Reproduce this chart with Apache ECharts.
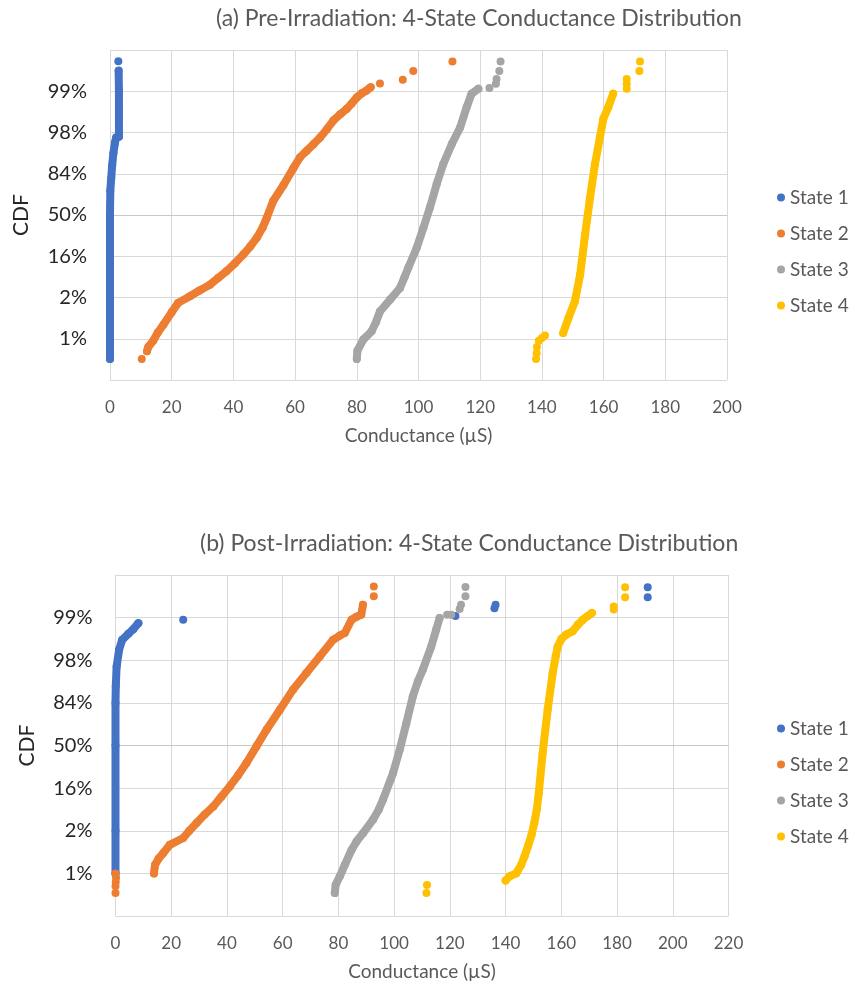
<!DOCTYPE html>
<html>
<head>
<meta charset="utf-8">
<title>4-State Conductance Distribution</title>
<script src="https://cdn.jsdelivr.net/npm/echarts@6/dist/echarts.min.js"></script>
<style>
  html, body { margin: 0; padding: 0; background: #ffffff; }
  #chart { width: 855px; height: 989px; }
</style>
</head>
<body>
<div id="chart"></div>
<script>
// Probability-scale CDF: y is the normal quantile (sigma), labelled with percentages
const yTickPos = [-3, -2, -1, 0, 1, 2, 3];
const yTickLabels = ['1%', '2%', '16%', '50%', '84%', '98%', '99%'];
const stateNames = ['State 1', 'State 2', 'State 3', 'State 4'];
const stateColors = ['#4472C4', '#ED7D31', '#A5A5A5', '#FFC000'];

// ---- (a) Pre-irradiation: [conductance µS, sigma] ----
const pre1Dense = [[0.0,-3.49],[0.0,-3.3],[0.0,-2.0],[0.0,0.0],[0.1,0.6],[0.4,0.9],[0.7,1.2],[1.1,1.5],[1.6,1.75],[2.0,1.88],[2.9,1.9],[2.9,2.5],[2.9,3.0],[2.8,3.5]];
const pre1Sparse = [[2.7,3.73]];
const pre2Dense = [[12.0,-3.3],[12.4,-3.2],[14.0,-3.05],[15.5,-2.85],[17.3,-2.66],[20.0,-2.36],[22.1,-2.13],[25.9,-1.97],[29.0,-1.83],[32.4,-1.69],[35.0,-1.53],[37.8,-1.36],[40.5,-1.17],[43.2,-0.96],[45.5,-0.76],[47.6,-0.55],[49.5,-0.3],[50.8,-0.07],[52.9,0.34],[56.2,0.72],[59.4,1.13],[61.6,1.4],[63.8,1.56],[66.0,1.72],[68.1,1.88],[70.3,2.08],[72.4,2.29],[74.6,2.44],[76.7,2.57],[78.3,2.7],[80.0,2.85],[81.6,2.95],[83.2,3.02],[84.5,3.1]];
const pre2Sparse = [[10.3,-3.49],[87.5,3.19],[94.9,3.28],[98.3,3.49],[111.0,3.72]];
const pre3Dense = [[80.0,-3.49],[80.2,-3.29],[82.1,-3.02],[84.8,-2.82],[86.2,-2.6],[87.5,-2.34],[90.8,-2.05],[94.0,-1.77],[95.5,-1.5],[96.7,-1.28],[99.4,-0.8],[101.6,-0.31],[103.7,0.18],[105.9,0.75],[108.0,1.23],[110.8,1.72],[113.5,2.12],[115.6,2.61],[117.2,2.94],[119.4,3.06]];
const pre3Sparse = [[123.0,3.08],[125.1,3.18],[125.3,3.3],[126.2,3.49],[126.6,3.72]];
const pre4Dense = [[146.9,-2.86],[148.6,-2.5],[150.7,-2.09],[152.4,-1.44],[154.0,-0.47],[155.6,0.42],[157.2,1.23],[158.8,1.88],[159.9,2.33],[161.5,2.61],[163.1,2.94]];
const pre4Sparse = [[138.1,-3.49],[138.3,-3.35],[138.4,-3.2],[139.0,-3.05],[140.0,-2.98],[141.0,-2.92],[167.5,3.06],[167.5,3.18],[167.5,3.3],[171.6,3.49],[171.8,3.72]];

// ---- (b) Post-irradiation ----
const post1Dense = [[0.0,-3.0],[0.0,-2.0],[0.0,0.0],[0.0,1.0],[0.1,1.39],[0.4,1.85],[1.3,2.25],[2.4,2.48],[4.6,2.62],[6.4,2.73],[8.2,2.87]];
const post1Sparse = [[24.3,2.95],[122.0,3.04],[136.0,3.22],[136.4,3.3],[191.0,3.48],[191.0,3.71]];
const post2Dense = [[13.8,-3.0],[14.2,-2.8],[15.5,-2.65],[17.1,-2.53],[19.5,-2.33],[24.3,-2.17],[26.5,-2.0],[29.1,-1.82],[32.0,-1.62],[35.1,-1.43],[38.0,-1.2],[41.0,-0.96],[44.0,-0.7],[47.0,-0.41],[50.6,-0.02],[54.2,0.37],[59.0,0.84],[63.7,1.31],[68.5,1.7],[73.3,2.09],[78.1,2.48],[80.5,2.58],[82.3,2.64],[84.7,2.95],[86.5,3.02],[88.2,3.07],[88.8,3.3]];
const post2Sparse = [[0.0,-3.0],[0.2,-3.1],[0.1,-3.2],[0.0,-3.3],[0.0,-3.46],[92.7,3.5],[92.7,3.73]];
const post3Dense = [[78.7,-3.46],[79.0,-3.27],[80.5,-3.07],[82.3,-2.8],[84.7,-2.45],[86.5,-2.25],[88.8,-2.06],[92.4,-1.74],[94.5,-1.5],[96.0,-1.27],[99.6,-0.65],[102.0,-0.1],[104.4,0.53],[106.7,1.15],[108.5,1.5],[110.3,1.78],[113.3,2.32],[115.1,2.72],[116.3,2.99]];
const post3Sparse = [[119.0,3.07],[120.5,3.07],[123.5,3.2],[124.0,3.3],[125.6,3.5],[125.6,3.72]];
const post4Dense = [[140.0,-3.17],[141.4,-3.07],[143.8,-3.0],[145.6,-2.8],[146.8,-2.6],[148.0,-2.37],[149.3,-2.1],[150.3,-1.82],[151.2,-1.5],[151.9,-1.12],[153.3,-0.18],[155.1,0.84],[156.9,1.7],[158.0,2.1],[158.7,2.32],[160.0,2.5],[161.7,2.6],[164.1,2.68],[165.9,2.83],[167.7,2.95],[169.5,3.04],[171.0,3.11]];
const post4Sparse = [[111.8,-3.27],[111.6,-3.46],[178.8,3.19],[178.8,3.26],[182.9,3.48],[182.9,3.71]];

const preDense = [pre1Dense, pre2Dense, pre3Dense, pre4Dense];
const preSparse = [pre1Sparse, pre2Sparse, pre3Sparse, pre4Sparse];
const postDense = [post1Dense, post2Dense, post3Dense, post4Dense];
const postSparse = [post1Sparse, post2Sparse, post3Sparse, post4Sparse];

const FONT = 'Lato, "Open Sans", sans-serif';
const MARK = 8;
const GRID_LINE = '#d9d9d9';

function xAxisFor(gridIndex, max) {
  return {
    type: 'value', gridIndex: gridIndex, min: 0, max: max, interval: 20,
    name: 'Conductance (µS)', nameLocation: 'middle', nameGap: 46,
    nameTextStyle: { color: '#595959', fontSize: 19, fontFamily: FONT },
    axisLine: { show: true, lineStyle: { color: '#c8c8c8', width: 1 } },
    axisTick: { show: false },
    axisLabel: { color: '#595959', fontSize: 17, fontFamily: FONT, margin: 19 },
    splitLine: { show: true, lineStyle: { color: GRID_LINE, width: 1 } }
  };
}

function yAxisFor(gridIndex) {
  return {
    type: 'value', gridIndex: gridIndex, min: -4, max: 4, interval: 1,
    name: 'CDF', nameLocation: 'middle', nameGap: 78, nameRotate: 90,
    nameTextStyle: { color: '#262626', fontSize: 21, fontFamily: FONT },
    axisLine: { show: false },
    axisTick: { show: false },
    axisLabel: {
      color: '#262626', fontSize: 20, fontFamily: FONT, margin: 23,
      formatter: function (v) {
        const i = yTickPos.indexOf(Math.round(v * 1000) / 1000);
        return i >= 0 ? yTickLabels[i] : '';
      }
    },
    splitLine: { show: true, lineStyle: { color: GRID_LINE, width: 1 } }
  };
}

function seriesFor(panel, denseSets, sparseSets) {
  const out = [];
  for (let s = 0; s < 4; s++) {
    // dense run of overlapping markers
    out.push({
      name: stateNames[s], type: 'line', xAxisIndex: panel, yAxisIndex: panel,
      data: denseSets[s], symbol: 'circle', symbolSize: MARK, showSymbol: true,
      itemStyle: { color: stateColors[s] },
      lineStyle: { color: stateColors[s], width: MARK, cap: 'round', join: 'round' },
      emphasis: { disabled: true }, silent: true, z: 2 + s
    });
    // isolated markers
    out.push({
      name: stateNames[s], type: 'scatter', xAxisIndex: panel, yAxisIndex: panel,
      data: sparseSets[s], symbol: 'circle', symbolSize: MARK,
      itemStyle: { color: stateColors[s], opacity: 1 },
      emphasis: { disabled: true }, silent: true, z: 2 + s
    });
  }
  return out;
}

function legendFor(top) {
  return {
    orient: 'vertical', left: 772, top: top, itemGap: 17,
    icon: 'circle', itemWidth: 8, itemHeight: 8,
    data: stateNames, selectedMode: false,
    textStyle: { color: '#595959', fontSize: 19, fontFamily: FONT }
  };
}

const chart = echarts.init(document.getElementById('chart'), null, { renderer: 'canvas' });
chart.setOption({
  backgroundColor: '#ffffff',
  animation: false,
  title: [
    { text: '(a) Pre-Irradiation: 4-State Conductance Distribution', left: 211, top: 2,
      textStyle: { color: '#595959', fontSize: 23, fontWeight: 'normal', fontFamily: FONT } },
    { text: '(b) Post-Irradiation: 4-State Conductance Distribution', left: 195, top: 527,
      textStyle: { color: '#595959', fontSize: 23, fontWeight: 'normal', fontFamily: FONT } }
  ],
  legend: [legendFor(183), legendFor(714)],
  grid: [
    { left: 110, right: 128, top: 50, height: 330, containLabel: false },
    { left: 115.5, right: 126.5, top: 575, height: 341, containLabel: false }
  ],
  xAxis: [xAxisFor(0, 200), xAxisFor(1, 220)],
  yAxis: [yAxisFor(0), yAxisFor(1)],
  series: seriesFor(0, preDense, preSparse).concat(seriesFor(1, postDense, postSparse))
});
</script>
</body>
</html>
